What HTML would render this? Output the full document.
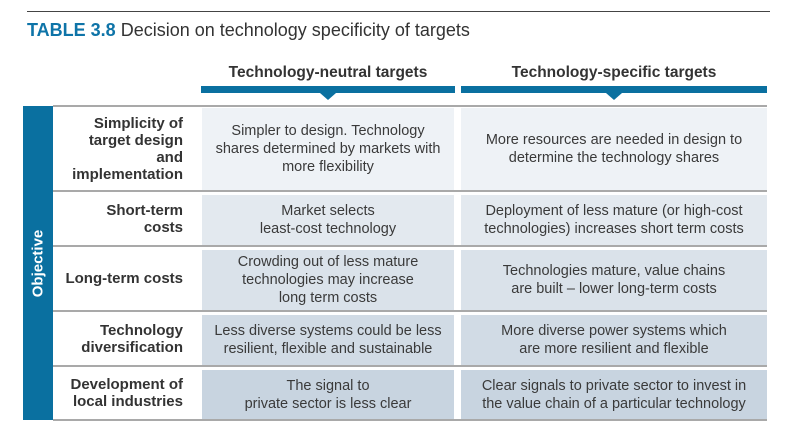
<!DOCTYPE html>
<html><head><style>
body{margin:0;width:800px;height:437px;background:#fff;position:relative;overflow:hidden;font-family:"Liberation Sans",sans-serif;color:#333}
.a{position:absolute}
.hd{font-weight:bold;font-size:15.5px;text-align:center;color:#333}
.bar{background:#0a70a0;height:7px;top:86px}
.tri{width:0;height:0;border-left:8px solid transparent;border-right:8px solid transparent;border-top:7px solid #0a70a0;top:93px}
.line{left:53px;width:714px;height:2px;background:#a9a9a9}
.lab{left:50px;width:133px;text-align:right;font-weight:bold;font-size:15px;line-height:17px;display:flex;align-items:center;justify-content:flex-end}
.c{display:flex;align-items:center;justify-content:center;text-align:center;font-size:14.5px;line-height:18px;color:#3a3a3a;white-space:nowrap}
</style></head><body>
<div class="a" style="left:27px;top:11px;width:743px;height:1px;background:#444"></div>
<div class="a" style="left:27px;top:20px;font-size:18px;white-space:nowrap"><b style="color:#0e74a8">TABLE 3.8</b> Decision on technology specificity of targets</div>
<div class="a hd" style="left:201px;width:254px;top:64px">Technology-neutral targets</div>
<div class="a hd" style="left:461px;width:306px;top:64px">Technology-specific targets</div>
<div class="a bar" style="left:201px;width:254px"></div>
<div class="a bar" style="left:461px;width:306px"></div>
<div class="a tri" style="left:320px"></div>
<div class="a tri" style="left:606px"></div>
<div class="a" style="left:23px;top:106px;width:30px;height:314px;background:#0a70a0"></div>
<div class="a" style="left:23px;top:106px;width:30px;height:314px;display:flex;align-items:center;justify-content:center"><div style="transform:rotate(-90deg);color:#fff;font-weight:bold;font-size:15px;white-space:nowrap">Objective</div></div>
<div class="a line" style="top:105px"></div>
<div class="a line" style="top:190px"></div>
<div class="a line" style="top:245px"></div>
<div class="a line" style="top:310px"></div>
<div class="a line" style="top:365px"></div>
<div class="a line" style="top:419px"></div>

<div class="a lab" style="top:107px;height:83px">Simplicity of<br>target design<br>and<br>implementation</div>
<div class="a c" style="left:202px;width:252px;top:108px;height:82px;background:#eef2f6">Simpler to design. Technology<br>shares determined by markets with<br>more flexibility</div>
<div class="a c" style="left:461px;width:306px;top:108px;height:82px;background:#eef2f6">More resources are needed in design to<br>determine the technology shares</div>

<div class="a lab" style="top:192px;height:53px">Short-term<br>costs</div>
<div class="a c" style="left:202px;width:252px;top:195px;height:50px;background:#e3e9ef">Market selects<br>least-cost technology</div>
<div class="a c" style="left:461px;width:306px;top:195px;height:50px;background:#e3e9ef">Deployment of less mature (or high-cost<br>technologies) increases short term costs</div>

<div class="a lab" style="top:247px;height:63px">Long-term costs</div>
<div class="a c" style="left:202px;width:252px;top:250px;height:60px;background:#dae2ea">Crowding out of less mature<br>technologies may increase<br>long term costs</div>
<div class="a c" style="left:461px;width:306px;top:250px;height:60px;background:#dae2ea">Technologies mature, value chains<br>are built – lower long-term costs</div>

<div class="a lab" style="top:312px;height:53px">Technology<br>diversification</div>
<div class="a c" style="left:202px;width:252px;top:315px;height:50px;background:#d1dbe5">Less diverse systems could be less<br>resilient, flexible and sustainable</div>
<div class="a c" style="left:461px;width:306px;top:315px;height:50px;background:#d1dbe5">More diverse power systems which<br>are more resilient and flexible</div>

<div class="a lab" style="top:367px;height:52px">Development of<br>local industries</div>
<div class="a c" style="left:202px;width:252px;top:370px;height:49px;background:#c8d4e0">The signal to<br>private sector is less clear</div>
<div class="a c" style="left:461px;width:306px;top:370px;height:49px;background:#c8d4e0">Clear signals to private sector to invest in<br>the value chain of a particular technology</div>
</body></html>
